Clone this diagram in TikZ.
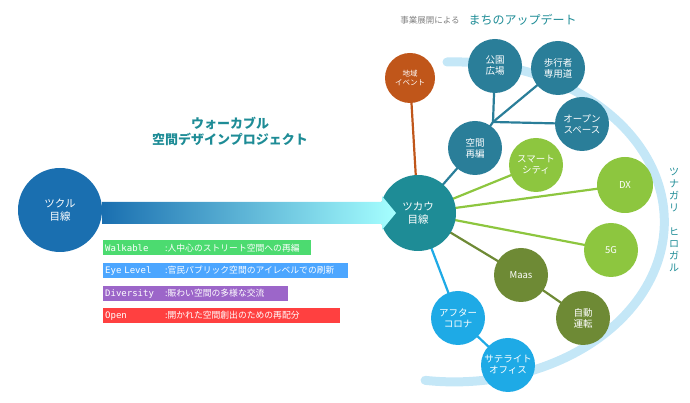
\documentclass[tikz,border=0pt]{standalone}
\usepackage{fontspec}
\setmainfont{Noto Sans CJK JP}
\newfontfamily\barmono{DejaVu Sans Mono}
\usetikzlibrary{positioning, arrows.meta}
\definecolor{teal1}{HTML}{1E8C96}
\definecolor{blue1}{HTML}{2A7E99}
\definecolor{orange1}{HTML}{C0561A}
\definecolor{lgreen}{HTML}{8DC63F}
\definecolor{dgreen}{HTML}{6E8A35}
\definecolor{sky}{HTML}{1EAAE6}
\definecolor{navy1}{HTML}{1A6FB0}
\definecolor{band}{HTML}{C4E7F7}
\newcommand{\barkey}[1]{\makebox[60pt][l]{\barmono\fontsize{9}{10}\selectfont #1}}
\tikzset{
  bubble/.style={circle, minimum size=54pt, inner sep=0pt, text=white, font=\fontsize{9.5}{11}\selectfont, align=center},
  bar/.style={anchor=west, text=white, inner sep=2pt, minimum height=15pt, align=left, font=\fontsize{8.8}{10}\selectfont},
  link/.style={line width=2.2pt}
}
\begin{document}
\begin{tikzpicture}[x=1pt, y=1pt]
  \useasboundingbox (0,0) rectangle (690,403);
  % background band
  \draw[band, line width=9pt, line cap=round] (447,341) arc[start angle=92, end angle=-98, x radius=210, y radius=160];
  % connectors
  \coordinate (hub) at (493,281);
  \coordinate (usec) at (418,190);
  \draw[link, orange1] (410,325) -- (usec);
  \draw[link, blue1] (usec) -- (475,255) -- (hub) -- (495,337);
  \draw[link, blue1] (hub) -- (558,335);
  \draw[link, blue1] (hub) -- (582,279);
  \draw[link, lgreen] (usec) -- (536,238);
  \draw[link, lgreen] (usec) -- (625,218);
  \draw[link, lgreen] (usec) -- (611,153);
  \draw[link, dgreen] (usec) -- (521,128) -- (583,85);
  \draw[link, sky] (usec) -- (458,85) -- (508,38);
  % bubbles
  \node[bubble, fill=navy1, minimum size=84pt, font=\fontsize{10.5}{12.5}\selectfont] (make) at (60,193) {ツクル\\目線};
  \node[bubble, fill=teal1, minimum size=76pt, font=\fontsize{10.5}{12.5}\selectfont] (use) at (usec) {ツカウ\\目線};
  \node[bubble, fill=orange1, minimum size=50pt, font=\fontsize{7.5}{9}\selectfont] (event) at (410,325) {地域\\イベント};
  \node[bubble, fill=blue1] (park) at (495,337) {公園\\広場};
  \node[bubble, fill=blue1] (walk) at (558,335) {歩行者\\専用道};
  \node[bubble, fill=blue1] (open) at (582,279) {オープン\\スペース};
  \node[bubble, fill=blue1] (space) at (475,255) {空間\\再編};
  \node[bubble, fill=lgreen] (smart) at (536,238) {スマート\\シティ};
  \node[bubble, fill=lgreen, minimum size=56pt] (dx) at (625,218) {DX};
  \node[bubble, fill=lgreen] (fiveg) at (611,153) {5G};
  \node[bubble, fill=dgreen] (maas) at (521,128) {Maas};
  \node[bubble, fill=dgreen] (auto) at (583,85) {自動\\運転};
  \node[bubble, fill=sky] (after) at (458,85) {アフター\\コロナ};
  \node[bubble, fill=sky] (sat) at (508,38) {サテライト\\オフィス};
  % main arrow
  \shade[left color=navy1, right color=cyan!35] (make.east |- 0,201) -- (382,201) -- (382,207) -- (396,190) -- (382,173) -- (382,179) -- (make.east |- 0,179) -- cycle;
  % titles
  \node[text=teal1, font=\bfseries\fontsize{13}{16}\selectfont, align=center] (title) at (230,272) {ウォーカブル\\空間デザインプロジェクト};
  \node[text=gray, font=\fontsize{8.5}{10}\selectfont] (lead) at (430,383) {事業展開による};
  \node[text=teal1, font=\fontsize{12}{14}\selectfont, right=2pt of lead] (update) {まちのアップデート};
  \node[text=teal1, font=\fontsize{10}{12}\selectfont, align=center] (vert) at (674,183) {ツ\\ナ\\ガ\\リ\\\\ヒ\\ロ\\ガ\\ル};
  % bars
  \node[bar, fill=green!60!teal!70, text width=204pt] (b1) at (103,155) {\barkey{Walkable}:人中心のストリート空間への再編};
  \node[bar, fill=blue!50!cyan!70, text width=241pt] (b2) at (103,132) {\barkey{Eye Level}:官民パブリック空間のアイレベルでの刷新};
  \node[bar, fill=violet!70!blue!60, text width=181pt] (b3) at (103,109) {\barkey{Diversity}:賑わい空間の多様な交流};
  \node[bar, fill=red!75, text width=233pt] (b4) at (103,87) {\barkey{Open}:開かれた空間創出のための再配分};
\end{tikzpicture}
\end{document}
